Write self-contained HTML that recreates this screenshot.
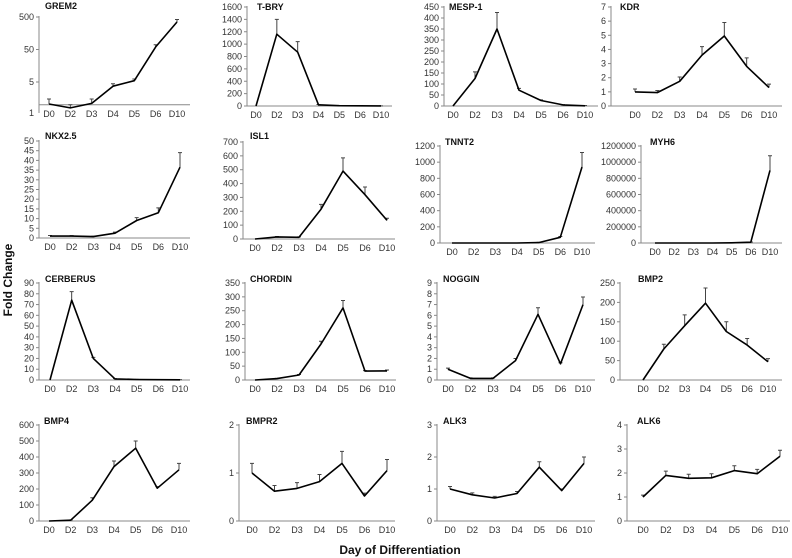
<!DOCTYPE html>
<html><head><meta charset="utf-8">
<style>
html,body{margin:0;padding:0;background:#fff;}
svg{display:block;font-family:"Liberation Sans",Arial,sans-serif;}
.tk{font-size:9px;fill:#333;}
.ttl{font-size:9px;font-weight:bold;fill:#111;}
.big{font-size:12px;font-weight:bold;fill:#111;}
</style></head>
<body>
<svg id="fig" width="792" height="558" viewBox="0 0 792 558" xmlns="http://www.w3.org/2000/svg">
<text class="big" transform="translate(12,280) rotate(-90)" text-anchor="middle">Fold Change</text>
<text class="big" x="400" y="554" text-anchor="middle">Day of Differentiation</text>
</svg>
<script>
const categories = ["D0","D2","D3","D4","D5","D6","D10"];
const grem2Values = [1.05,0.8,1.1,3.7,5.5,60,350];
const grem2Err = [1.5,1.0,1.5,4.4,6.2,70,420];
const grem2Ticks = [5,50,500];
const tbryValues = [0,1160,870,20,5,3,2];
const tbryErr = [0,1400,1040,25,6,4,3];
const tbryTicks = [0,200,400,600,800,1000,1200,1400,1600];
const mespValues = [0,125,350,72,25,5,1];
const mespErr = [0,155,425,80,28,6,2];
const mespTicks = [0,50,100,150,200,250,300,350,400,450];
const kdrValues = [1.0,0.95,1.75,3.6,4.95,2.8,1.3];
const kdrErr = [1.2,1.1,2.05,4.2,5.9,3.4,1.55];
const kdrTicks = [0,1,2,3,4,5,6,7];
const nkxValues = [1,1,0.7,2.5,9,13,36.5];
const nkxErr = [1.3,1.2,0.9,3,10.5,15.5,44];
const nkxTicks = [0,5,10,15,20,25,30,35,40,45,50];
const isl1Values = [0,15,12,215,490,320,135];
const isl1Err = [0,18,15,250,585,375,150];
const isl1Ticks = [0,100,200,300,400,500,600,700];
const tnnt2Values = [0,0,0,0,5,70,940];
const tnnt2Err = [0,0,0,0,7,80,1120];
const tnnt2Ticks = [0,200,400,600,800,1000,1200];
const myh6Values = [0,0,0,0,2000,10000,900000];
const myh6Err = [0,0,0,0,3000,12000,1080000];
const myh6Ticks = [0,200000,400000,600000,800000,1000000,1200000];
const cerValues = [0,74,20,1,0.5,0.3,0.2];
const cerErr = [0,82,21,1.3,0.6,0.4,0.3];
const cerTicks = [0,10,20,30,40,50,60,70,80,90];
const chordValues = [0,5,18,130,260,32,33];
const chordErr = [0,6,20,140,287,34,36];
const chordTicks = [0,50,100,150,200,250,300,350];
const nogValues = [1.0,0.15,0.15,1.8,6.1,1.5,7.0];
const nogErr = [1.1,0.2,0.2,2.0,6.7,1.6,7.7];
const nogTicks = [0,1,2,3,4,5,6,7,8,9];
const bmp2Values = [0,80,140,198,125,90,47];
const bmp2Err = [0,92,168,237,150,107,55];
const bmp2Ticks = [0,50,100,150,200,250];
const bmp4Values = [0,5,130,340,455,205,320];
const bmp4Err = [0,7,145,375,500,215,360];
const bmp4Ticks = [0,100,200,300,400,500,600];
const bmpr2Values = [1.0,0.62,0.68,0.82,1.2,0.52,1.05];
const bmpr2Err = [1.2,0.74,0.8,0.97,1.45,0.58,1.28];
const bmpr2Ticks = [0,1,2];
const alk3Values = [1.0,0.82,0.72,0.86,1.68,0.95,1.8];
const alk3Err = [1.08,0.88,0.77,0.92,1.85,1.0,2.0];
const alk3Ticks = [0,1,2,3];
const alk6Values = [1.0,1.9,1.78,1.8,2.1,1.97,2.7];
const alk6Err = [1.08,2.08,1.95,1.97,2.3,2.15,2.95];
const alk6Ticks = [0,1,2,3,4];

const panels = [
 {id:'grem2',title:'GREM2',v:grem2Values,e:grem2Err,t:grem2Ticks,log:true,ax:39,x0:49,x6:177,end:190,yTop:17,y0:105,tx:45,ty:9},
 {id:'t-bry',title:'T-BRY',v:tbryValues,e:tbryErr,t:tbryTicks,ax:247,x0:256,x6:381,end:392,yTop:7,y0:106,tx:257,ty:10},
 {id:'mesp-1',title:'MESP-1',v:mespValues,e:mespErr,t:mespTicks,ax:444,x0:453,x6:585,end:598,yTop:7,y0:106,tx:449,ty:10},
 {id:'kdr',title:'KDR',v:kdrValues,e:kdrErr,t:kdrTicks,ax:611,x0:635,x6:769,end:782,yTop:7,y0:106,tx:620,ty:10},
 {id:'nkx2-5',title:'NKX2.5',v:nkxValues,e:nkxErr,t:nkxTicks,ax:39,x0:50,x6:180,end:190,yTop:141,y0:238,tx:45,ty:139},
 {id:'isl1',title:'ISL1',v:isl1Values,e:isl1Err,t:isl1Ticks,ax:243,x0:255,x6:387,end:395,yTop:142,y0:239,tx:250,ty:139},
 {id:'tnnt2',title:'TNNT2',v:tnnt2Values,e:tnnt2Err,t:tnnt2Ticks,ax:440,x0:452,x6:582,end:595,yTop:146,y0:243,tx:445,ty:145},
 {id:'myh6',title:'MYH6',v:myh6Values,e:myh6Err,t:myh6Ticks,ax:641,x0:655,x6:770,end:782,yTop:146,y0:243,tx:650,ty:145},
 {id:'cerberus',title:'CERBERUS',v:cerValues,e:cerErr,t:cerTicks,ax:39,x0:50,x6:180,end:190,yTop:283,y0:380,tx:45,ty:282},
 {id:'chordin',title:'CHORDIN',v:chordValues,e:chordErr,t:chordTicks,ax:245,x0:255,x6:387,end:396,yTop:283,y0:380,tx:250,ty:282},
 {id:'noggin',title:'NOGGIN',v:nogValues,e:nogErr,t:nogTicks,ax:437,x0:448,x6:583,end:595,yTop:283,y0:380,tx:443,ty:282},
 {id:'bmp2',title:'BMP2',v:bmp2Values,e:bmp2Err,t:bmp2Ticks,ax:620,x0:643,x6:768,end:782,yTop:283,y0:380,tx:638,ty:282},
 {id:'bmp4',title:'BMP4',v:bmp4Values,e:bmp4Err,t:bmp4Ticks,ax:39,x0:49,x6:179,end:190,yTop:425,y0:521,tx:44,ty:424},
 {id:'bmpr2',title:'BMPR2',v:bmpr2Values,e:bmpr2Err,t:bmpr2Ticks,ax:239,x0:252,x6:387,end:395,yTop:425,y0:521,tx:246,ty:424},
 {id:'alk3',title:'ALK3',v:alk3Values,e:alk3Err,t:alk3Ticks,ax:437,x0:450,x6:584,end:595,yTop:425,y0:521,tx:443,ty:424},
 {id:'alk6',title:'ALK6',v:alk6Values,e:alk6Err,t:alk6Ticks,ax:627,x0:643,x6:780,end:790,yTop:425,y0:521,tx:637,ty:424}
];
const NS='http://www.w3.org/2000/svg';
const svg=document.getElementById('fig');
function mk(tag,attrs,parent){const el=document.createElementNS(NS,tag);for(const k in attrs)el.setAttribute(k,attrs[k]);parent.appendChild(el);return el;}
panels.forEach(p=>{
  const g=mk('g',{},svg);
  
  
  const tmax=p.t[p.t.length-1];
  let yS;
  if(p.log){
    const dec=32.5, y5=82;
    yS=v=>y5-(Math.log10(Math.max(v,0.01))-Math.log10(5))*dec;
  } else {
    yS=v=>p.y0-(v/tmax)*(p.y0-p.yTop);
  }
  const xS=i=>p.x0+i*(p.x6-p.x0)/(categories.length-1);
  const baseY=p.log?yS(1):p.y0;
  const yBottom=p.log?113:p.y0;
  // title
  const tt=mk('text',{x:p.tx,y:p.ty,class:'ttl'},g);
  tt.textContent=p.title;
  
  
  // y axis
  const ya=mk('line',{x1:p.ax,y1:p.yTop-1,x2:p.ax,y2:yBottom,stroke:'#888','stroke-width':1},g);
  
  
  p.t.forEach(tv=>{
    const y=yS(tv);
    mk('line',{x1:p.ax-3,y1:y,x2:p.ax,y2:y,stroke:'#888','stroke-width':1},g);
    const lb=mk('text',{x:p.ax-5,y:y+3,class:'tk','text-anchor':'end'},g);
    lb.textContent=String(tv);
    
    
  });
  if(p.log){
    const lb=mk('text',{x:p.ax-5,y:116,class:'tk','text-anchor':'end'},g);
    lb.textContent='1';
    
    
  }
  // x axis
  const xa=mk('line',{x1:p.ax,y1:baseY,x2:p.end,y2:baseY,stroke:'#888','stroke-width':1},g);
  
  
  const labY=(p.log?p.y0:p.y0)+12;
  categories.forEach((c,i)=>{
    const lb=mk('text',{x:xS(i),y:labY,class:'tk','text-anchor':'middle'},g);
    lb.textContent=c;
    
    
  });
  // error bars
  p.v.forEach((v,i)=>{
    const top=p.e[i];
    if(top<=v) return;
    const x=xS(i);
    const eb=mk('path',{d:`M${x},${yS(v)}V${yS(top)}M${x-2},${yS(top)}H${x+2}`,stroke:'#444','stroke-width':1,fill:'none'},g);
    
    
  });
  // series line
  const d=p.v.map((v,i)=>(i?'L':'M')+xS(i).toFixed(1)+','+yS(v).toFixed(1)).join('');
  const ln=mk('path',{d:d,stroke:'#000','stroke-width':1.6,fill:'none','stroke-linejoin':'round'},g);
  
  
});
</script>
</body></html>
